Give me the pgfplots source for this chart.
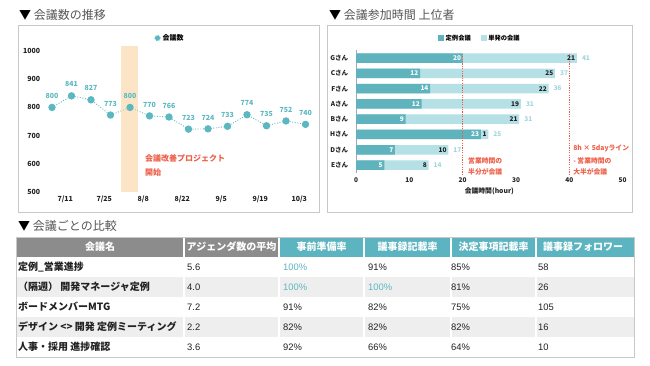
\documentclass[border=0pt]{standalone}
\usepackage{pgfplots}
\pgfplotsset{compat=1.18}
\usepackage{pgfplotstable}
\usepackage{fontspec}
\setmainfont{Noto Sans CJK JP}
\newfontfamily\arial{Liberation Sans}
\definecolor{tealc}{RGB}{91,184,193}
\definecolor{darkbar}{RGB}{95,179,189}
\definecolor{lightbar}{RGB}{180,224,230}
\definecolor{totc}{RGB}{160,214,222}
\definecolor{redc}{RGB}{238,95,72}
\definecolor{bandc}{RGB}{250,213,162}
\definecolor{hdrgray}{RGB}{140,140,140}
\definecolor{hdrteal}{RGB}{91,180,191}
\definecolor{rowgray}{RGB}{238,238,238}
\definecolor{boxgray}{RGB}{200,200,200}
\definecolor{titlegray}{RGB}{85,85,85}
\definecolor{txt}{RGB}{34,34,34}

\pgfplotstableread{
idx val
0 800
1 841
2 827
3 773
4 800
5 770
6 766
7 723
8 724
9 733
10 774
11 735
12 752
13 740
}\meetings

% dark = regular meetings, light = one-off meetings, total = dark + light
\pgfplotstableread{
y dark light total dl ll tl
7 20.0 21.4 41.4 20 21 41
6 12.0 25.3 37.3 12 25 37
5 13.9 22.2 36.1 14 22 36
4 12.3 18.6 30.9 12 19 31
3 9.3 21.3 30.6 9 21 31
2 23.4 1.4 24.8 23 1 25
1 7.3 10.0 17.3 7 10 17
0 5.3 8.3 13.6 5 8 14
}\hours

\begin{document}
\begin{tikzpicture}
\fill[white] (0bp,0bp) rectangle (650bp,-366bp);
% titles
\node[anchor=west, inner sep=0, text=titlegray, font=\fontsize{12bp}{14bp}\selectfont] at (19bp,-15bp) {{\color{black}▼} 会議数の推移};
\node[anchor=west, inner sep=0, text=titlegray, font=\fontsize{12bp}{14bp}\selectfont] at (329bp,-15bp) {{\color{black}▼} 会議参加時間 上位者};
\node[anchor=west, inner sep=0, text=titlegray, font=\fontsize{12bp}{14bp}\selectfont] at (18bp,-226bp) {{\color{black}▼} 会議ごとの比較};
% panels
\draw[boxgray, line width=0.8bp] (18bp,-25bp) rectangle (319bp,-212bp);
\draw[boxgray, line width=0.8bp] (327bp,-25bp) rectangle (632bp,-212bp);

% ---------- left chart ----------
\begin{axis}[
  at={(42.25bp,-192bp)}, anchor=south west, scale only axis,
  width=273bp, height=146.6bp,
  xmin=-0.5, xmax=13.5, ymin=500, ymax=1020,
  axis line style={draw=none}, tick style={draw=none},
  ytick={500,600,...,1000},
  xtick={0.68,2.68,4.68,6.68,8.68,10.68,12.68},
  xticklabels={7/11,7/25,8/8,8/22,9/5,9/19,10/3},
  ticklabel style={font=\fontsize{7bp}{8bp}\selectfont\bfseries, text=txt},
  yticklabel style={xshift=1.5bp},
  /pgf/number format/assume math mode=true,
  /pgf/number format/1000 sep={},
  clip=false,
  legend style={at={(0.468,1.05)}, anchor=center, draw=none, fill=none,
    font=\fontsize{7bp}{8bp}\selectfont\bfseries},
]
\addplot[tealc, line width=0.9bp, dash pattern=on 0.9bp off 1.7bp,
  mark=*, mark size=3.2bp, mark options={solid, fill=tealc, draw=tealc},
  nodes near coords,
  every node near coord/.append style={font=\fontsize{7bp}{8bp}\selectfont\bfseries, text=tealc, yshift=5bp},
  legend image code/.code={\fill[tealc] (0.12cm,0cm) circle (2.6bp);}
] table[x=idx, y=val] {\meetings};
\legend{会議数}
\fill[bandc, opacity=0.6] (axis cs:3.54,500) rectangle (axis cs:4.43,1018);
\node[anchor=west, align=left, inner sep=0, text=redc, font=\fontsize{8bp}{14bp}\selectfont\bfseries] at (axis cs:4.77,595) {会議改善プロジェクト\\開始};
\end{axis}

% ---------- right chart ----------
\begin{axis}[
  at={(356bp,-172.7bp)}, anchor=south west, scale only axis,
  width=266.7bp, height=122.3bp,
  xmin=0, xmax=50, ymin=-0.5, ymax=7.5,
  xbar, bar width=9.5bp,
  axis x line*=bottom, axis y line*=left,
  x axis line style={draw=none},
  y axis line style={draw=gray!70, line width=0.8bp},
  tick style={draw=none},
  xtick={0,10,...,50},
  ytick={0,...,7},
  yticklabels={Eさん,Dさん,Hさん,Bさん,Aさん,Fさん,Cさん,Gさん},
  ticklabel style={font=\fontsize{6.5bp}{7bp}\selectfont\bfseries, text=txt},
  xticklabel style={yshift=-1.5bp},
  /pgf/number format/assume math mode=true,
  xlabel={会議時間(hour)},
  xlabel style={font=\fontsize{6.8bp}{8bp}\selectfont\bfseries, text=txt, yshift=2bp},
  clip=false,
  legend style={at={(0.465,1.10)}, anchor=center, draw=none, fill=none,
    legend columns=2, font=\fontsize{6.3bp}{7bp}\selectfont\bfseries,
    /tikz/every even column/.append style={column sep=8bp}},
]
\addlegendimage{legend image code/.code={\fill[darkbar] (0bp,-2.5bp) rectangle (5bp,2.5bp);}}
\addlegendentry{定例会議}
\addlegendimage{legend image code/.code={\fill[lightbar] (0bp,-2.5bp) rectangle (5bp,2.5bp);}}
\addlegendentry{単発の会議}
% full bar (regular + one-off), labelled with the one-off value
\addplot[forget plot, fill=lightbar, draw=none, bar shift=0pt,
  point meta=explicit symbolic, nodes near coords,
  every node near coord/.append style={anchor=east, text=txt, inner sep=1.5bp, font=\fontsize{6.5bp}{7bp}\selectfont\bfseries}
] table[x=total, y=y, meta=ll] {\hours};
% regular meetings
\addplot[forget plot, fill=darkbar, draw=none, bar shift=0pt,
  point meta=explicit symbolic, nodes near coords,
  every node near coord/.append style={anchor=east, text=white, inner sep=1.5bp, font=\fontsize{6.5bp}{7bp}\selectfont\bfseries}
] table[x=dark, y=y, meta=dl] {\hours};
% totals
\addplot[forget plot, fill=none, draw=none, bar shift=0pt,
  point meta=explicit symbolic, nodes near coords,
  every node near coord/.append style={anchor=west, text=totc, inner sep=0bp, xshift=5bp, font=\fontsize{6.5bp}{7bp}\selectfont\bfseries}
] table[x=total, y=y, meta=tl] {\hours};
\draw[redc, line width=1.1bp, dash pattern=on 1.1bp off 1.3bp] (axis cs:20,-0.65) -- (axis cs:20,7.33);
\draw[redc, line width=1.1bp, dash pattern=on 1.1bp off 1.3bp] (axis cs:40,-0.65) -- (axis cs:40,7.33);
\node[anchor=west, inner sep=0, text=redc, font=\fontsize{6.8bp}{8bp}\selectfont\bfseries] at (axis cs:21,0.26) {営業時間の};
\node[anchor=west, inner sep=0, text=redc, font=\fontsize{6.8bp}{8bp}\selectfont\bfseries] at (axis cs:21,-0.46) {半分が会議};
\node[anchor=west, inner sep=0, text=redc, font=\fontsize{6.8bp}{8bp}\selectfont\bfseries] at (axis cs:40.7,1.11) {8h × 5dayライン};
\node[anchor=west, inner sep=0, text=redc, font=\fontsize{6.8bp}{8bp}\selectfont\bfseries] at (axis cs:40.7,0.26) {- 営業時間の};
\node[anchor=west, inner sep=0, text=redc, font=\fontsize{6.8bp}{8bp}\selectfont\bfseries] at (axis cs:40.7,-0.46) {大半が会議};
\end{axis}

% ---------- table ----------
\fill[hdrgray] (16bp,-237bp) rectangle (279bp,-257bp);
\fill[hdrteal] (279bp,-237bp) rectangle (634bp,-257bp);
\fill[rowgray] (16bp,-277bp) rectangle (634bp,-297bp);
\fill[rowgray] (16bp,-317bp) rectangle (634bp,-337bp);
\foreach \cx in {184,279,364,451,536} {
  \draw[white, line width=1.6bp] (\cx bp,-237bp) -- (\cx bp,-357bp);
}
\draw[boxgray, line width=0.8bp] (16bp,-237bp) rectangle (634bp,-357bp);
\begin{scope}[every node/.style={anchor=center, inner sep=0, text=white, font=\fontsize{10bp}{12bp}\selectfont\bfseries}]
\node at (100bp,-247bp) {会議名};
\node at (231.5bp,-247bp) {アジェンダ数の平均};
\node at (321.5bp,-247bp) {事前準備率};
\node at (407.5bp,-247bp) {議事録記載率};
\node at (493.5bp,-247bp) {決定事項記載率};
\node at (583bp,-247bp) {議事録フォロワー};
\end{scope}
\begin{scope}[every node/.style={anchor=west, inner sep=0, text=txt, font=\fontsize{10bp}{12bp}\selectfont\bfseries}]
\node at (18bp,-267bp) {定例\_営業進捗};
\node at (18bp,-287bp) {（隔週） 開発マネージャ定例};
\node at (18bp,-307bp) {ボードメンバーMTG};
\node at (18bp,-327bp) {デザイン <> 開発 定例ミーティング};
\node at (18bp,-347bp) {人事・採用 進捗確認};
\end{scope}
\begin{scope}[every node/.style={anchor=west, inner sep=0, text=txt, font=\arial\fontsize{9.4bp}{11bp}\selectfont}]
\node at (187bp,-267bp) {5.6};
\node at (187bp,-287bp) {4.0};
\node at (187bp,-307bp) {7.2};
\node at (187bp,-327bp) {2.2};
\node at (187bp,-347bp) {3.6};
\node[text=tealc] at (283bp,-267bp) {100\%};
\node[text=tealc] at (283bp,-287bp) {100\%};
\node at (283bp,-307bp) {91\%};
\node at (283bp,-327bp) {82\%};
\node at (283bp,-347bp) {92\%};
\node at (368bp,-267bp) {91\%};
\node[text=tealc] at (368bp,-287bp) {100\%};
\node at (368bp,-307bp) {82\%};
\node at (368bp,-327bp) {82\%};
\node at (368bp,-347bp) {66\%};
\node at (451bp,-267bp) {85\%};
\node at (451bp,-287bp) {81\%};
\node at (451bp,-307bp) {75\%};
\node at (451bp,-327bp) {82\%};
\node at (451bp,-347bp) {64\%};
\node at (538bp,-267bp) {58};
\node at (538bp,-287bp) {26};
\node at (538bp,-307bp) {105};
\node at (538bp,-327bp) {16};
\node at (538bp,-347bp) {10};
\end{scope}
\end{tikzpicture}
\end{document}
